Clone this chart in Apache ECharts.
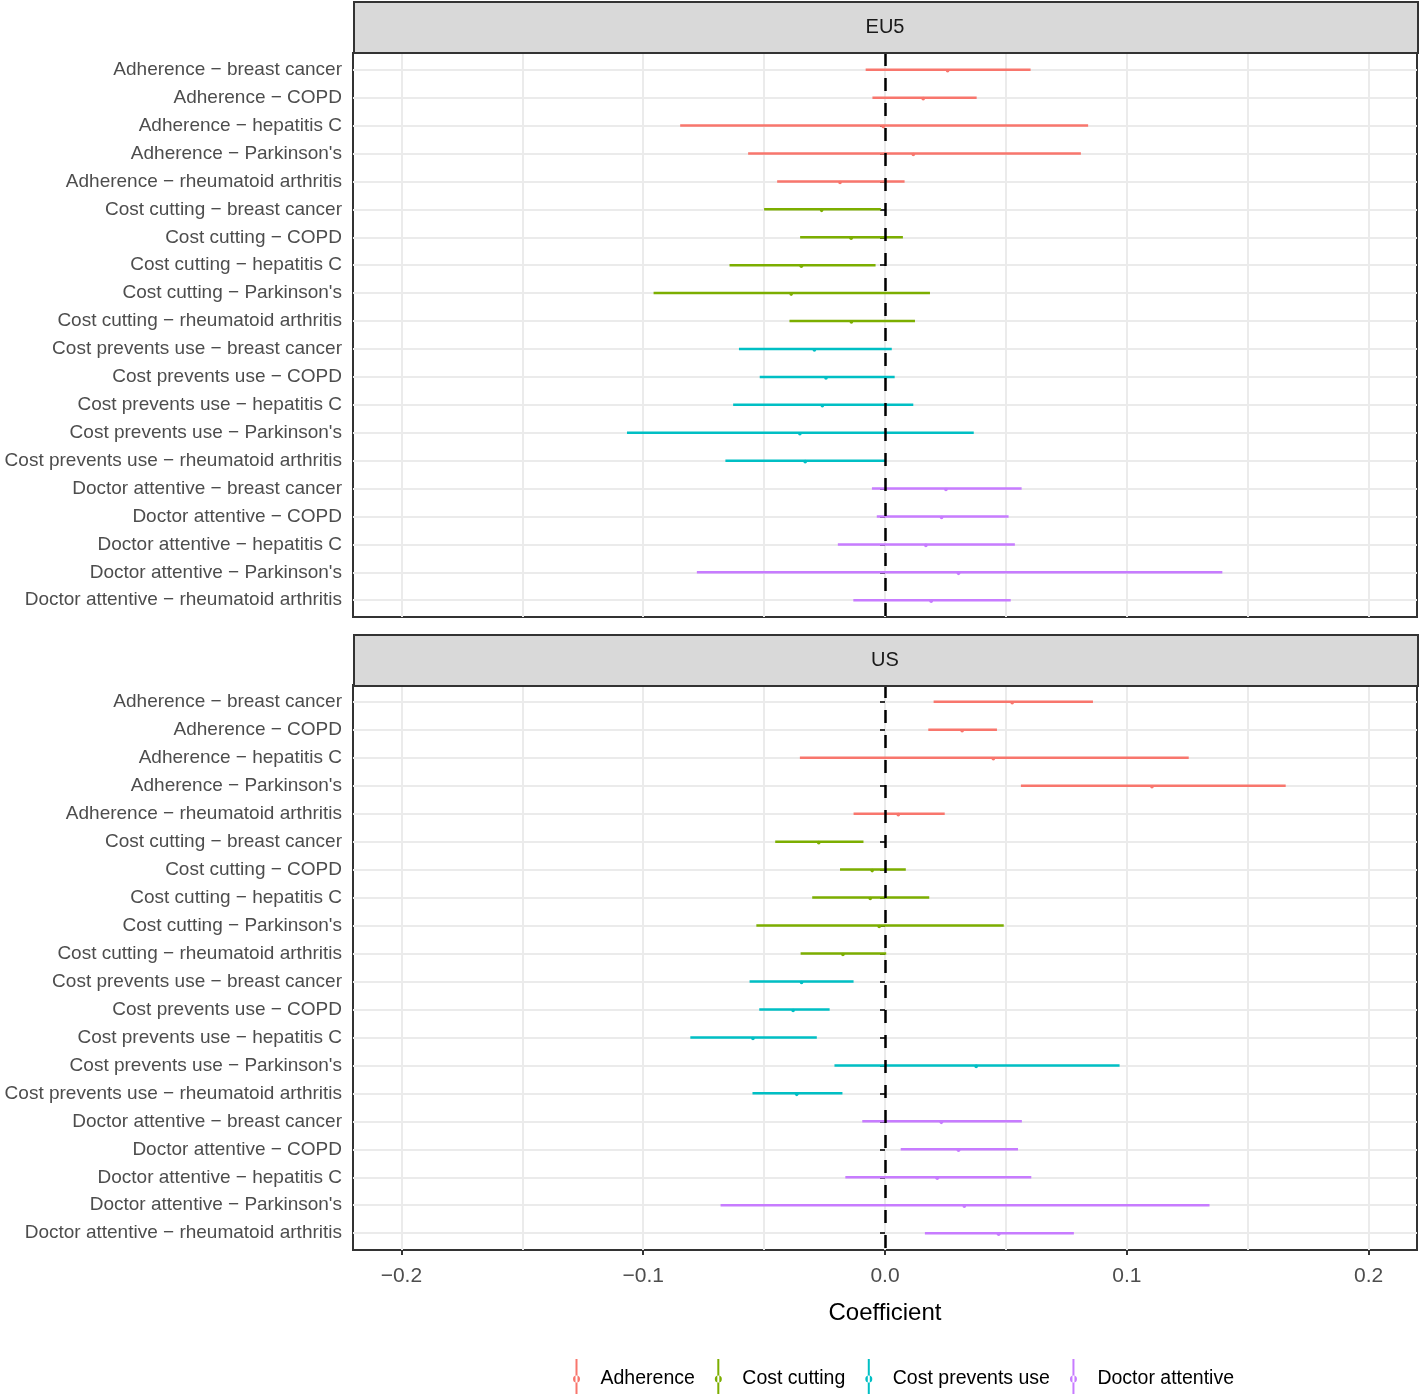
<!DOCTYPE html>
<html>
<head>
<meta charset="utf-8">
<script src="https://cdn.jsdelivr.net/npm/echarts@6/dist/echarts.min.js"></script>
<style>
html,body{margin:0;padding:0;background:#fff;}
#chart{width:1419px;height:1394px;}
</style>
</head>
<body>
<div id="chart"></div>
<script>
// ---- data ----
const groups = ["Adherence", "Cost cutting", "Cost prevents use", "Doctor attentive"];
const conditions = ["breast cancer", "COPD", "hepatitis C", "Parkinson's", "rheumatoid arthritis"];
const categories = [];
groups.forEach(g => conditions.forEach(c => categories.push(g + " \u2212 " + c)));
const facets = ["EU5", "US"];
const xTickValues = [-0.2, -0.1, 0, 0.1, 0.2];
const xGridValues = [-0.2, -0.15, -0.1, -0.05, 0, 0.05, 0.1, 0.15, 0.2];

const eu5Lower = [-0.0080, -0.0052, -0.0847, -0.0566, -0.0446, -0.0500, -0.0351, -0.0643, -0.0957, -0.0395, -0.0604, -0.0518, -0.0628, -0.1067, -0.0660, -0.0054, -0.0034, -0.0195, -0.0778, -0.0131];
const eu5Estimate = [0.0259, 0.0158, -0.0007, 0.0117, -0.0186, -0.0262, -0.0140, -0.0346, -0.0388, -0.0139, -0.0292, -0.0244, -0.0259, -0.0352, -0.0330, 0.0252, 0.0234, 0.0169, 0.0304, 0.0191];
const eu5Upper = [0.0602, 0.0379, 0.0840, 0.0810, 0.0081, -0.0017, 0.0074, -0.0039, 0.0186, 0.0124, 0.0028, 0.0040, 0.0117, 0.0367, 0.0004, 0.0565, 0.0511, 0.0537, 0.1395, 0.0520];

const usLower = [0.0201, 0.0179, -0.0352, 0.0562, -0.0130, -0.0454, -0.0186, -0.0301, -0.0532, -0.0349, -0.0560, -0.0520, -0.0805, -0.0209, -0.0548, -0.0094, 0.0065, -0.0164, -0.0680, 0.0165];
const usEstimate = [0.0526, 0.0319, 0.0448, 0.1104, 0.0055, -0.0274, -0.0053, -0.0061, -0.0024, -0.0174, -0.0345, -0.0380, -0.0546, 0.0377, -0.0365, 0.0233, 0.0304, 0.0216, 0.0328, 0.0470];
const usUpper = [0.0860, 0.0463, 0.1256, 0.1657, 0.0247, -0.0089, 0.0086, 0.0183, 0.0491, 0.0005, -0.0130, -0.0229, -0.0282, 0.0970, -0.0176, 0.0566, 0.0550, 0.0605, 0.1342, 0.0781];

const colors = ["#F8766D", "#7CAE00", "#00BFC4", "#C77CFF"];
const FONT = "'Liberation Sans', Arial, Helvetica, sans-serif";

const facetData = [[eu5Lower, eu5Estimate, eu5Upper], [usLower, usEstimate, usUpper]];
const rowIdx = categories.map((_, i) => i);

function renderItem(params, api) {
  const lo = api.value(0), est = api.value(1), hi = api.value(2), row = api.value(3);
  const p1 = api.coord([lo, row]);
  const p2 = api.coord([hi, row]);
  const pe = api.coord([est, row]);
  const col = api.visual('color');
  return {
    type: 'group',
    children: [
      { type: 'line', shape: { x1: p1[0], y1: p1[1], x2: p2[0], y2: p2[1] }, style: { stroke: col, lineWidth: 2.5 } },
      { type: 'circle', shape: { cx: pe[0], cy: pe[1] + 1, r: 1.8 }, style: { fill: col } }
    ]
  };
}

const series = [];
facets.forEach((f, fi) => {
  const [lo, est, hi] = facetData[fi];
  groups.forEach((g, gi) => {
    const data = [];
    for (let k = 0; k < conditions.length; k++) {
      const i = gi * conditions.length + k;
      data.push([lo[i], est[i], hi[i], i]);
    }
    series.push({
      type: 'custom',
      name: g,
      xAxisIndex: fi,
      yAxisIndex: fi,
      itemStyle: { color: colors[gi] },
      encode: { x: [0, 1, 2], y: 3 },
      renderItem: renderItem,
      data: data,
      z: 2
    });
  });
  series.push({
    type: 'line',
    name: 'zero-' + f,
    xAxisIndex: fi,
    yAxisIndex: fi,
    data: [],
    z: 5,
    markLine: {
      silent: true,
      symbol: ['none', 'none'],
      label: { show: false },
      z: 5,
      lineStyle: { color: '#000', width: 2.5, type: [13, 12] },
      data: [{ xAxis: 0 }]
    }
  });
});

const grids = [
  { left: 353, top: 53, width: 1064, height: 564 },
  { left: 353, top: 685, width: 1064, height: 565 }
].map(g => Object.assign(g, { show: true, borderColor: '#333', borderWidth: 2, backgroundColor: 'transparent', containLabel: false, outerBoundsMode: 'none' }));

function xFmt(v) {
  if (Math.abs(v) < 1e-9) return '0.0';
  return (v < 0 ? '\u2212' : '') + Math.abs(v).toFixed(1);
}

const xAxes = [
  {
    gridIndex: 0, type: 'value', min: -0.22, max: 0.22,
    axisLine: { show: false },
    axisTick: { show: false, customValues: xGridValues },
    axisLabel: { show: false },
    splitLine: { show: true, lineStyle: { color: '#ebebeb', width: 2 } }
  },
  {
    gridIndex: 1, type: 'value', min: -0.22, max: 0.22,
    axisLine: { show: false },
    axisTick: { show: false, customValues: xGridValues },
    axisLabel: { show: true, customValues: xTickValues, formatter: xFmt, color: '#4d4d4d', fontSize: 21, fontFamily: FONT, margin: 16 },
    splitLine: { show: true, lineStyle: { color: '#ebebeb', width: 2 } },
    name: 'Coefficient', nameLocation: 'middle', nameGap: 51,
    nameTextStyle: { color: '#000', fontSize: 24, fontFamily: FONT }
  },
  {
    gridIndex: 1, type: 'value', min: -0.22, max: 0.22, position: 'bottom',
    axisLine: { show: false },
    axisTick: { show: true, customValues: xTickValues, length: 5, lineStyle: { color: '#333', width: 2 } },
    axisLabel: { show: false },
    splitLine: { show: false }
  }
];

const yAxes = [0, 1].map(gi => ({
  gridIndex: gi, type: 'value', min: -0.6, max: 19.6, inverse: true,
  axisLine: { show: false },
  axisTick: { show: true, customValues: rowIdx, length: 5, lineStyle: { color: '#333', width: 2 } },
  axisLabel: {
    show: true, customValues: rowIdx,
    formatter: v => categories[Math.round(v)],
    color: '#4d4d4d', fontSize: 19, fontFamily: FONT, margin: 11
  },
  splitLine: { show: true, lineStyle: { color: '#ebebeb', width: 2 } }
}));

const stripTops = [1, 634];
const graphic = [];
facets.forEach((f, fi) => {
  graphic.push({
    type: 'rect', left: 353, top: stripTops[fi], z: 10,
    shape: { width: 1064, height: 51 },
    style: { fill: '#d9d9d9', stroke: '#333', lineWidth: 2 }
  });
  graphic.push({
    type: 'text', x: 885, y: stripTops[fi] + 26, z: 11,
    style: { text: f, fill: '#1a1a1a', font: '20px ' + FONT, textAlign: 'center', textVerticalAlign: 'middle' }
  });
});

const legendIcon = 'path://M4,0L6,0L6,40L4,40Z M1.5,20A3.5,3.5 0 1 0 8.5,20A3.5,3.5 0 1 0 1.5,20Z';

const option = {
  backgroundColor: '#fff',
  animation: false,
  grid: grids,
  xAxis: xAxes,
  yAxis: yAxes,
  legend: {
    data: groups.map(g => ({ name: g, icon: legendIcon })),
    top: 1354, left: 568,
    itemWidth: 10, itemHeight: 40, itemGap: 20,
    textStyle: { color: '#000', fontSize: 19.5, fontFamily: FONT, padding: [0, 0, 0, 14] }
  },
  graphic: graphic,
  series: series
};

const chart = echarts.init(document.getElementById('chart'), null, { renderer: 'canvas' });
chart.setOption(option);
</script>
</body>
</html>
